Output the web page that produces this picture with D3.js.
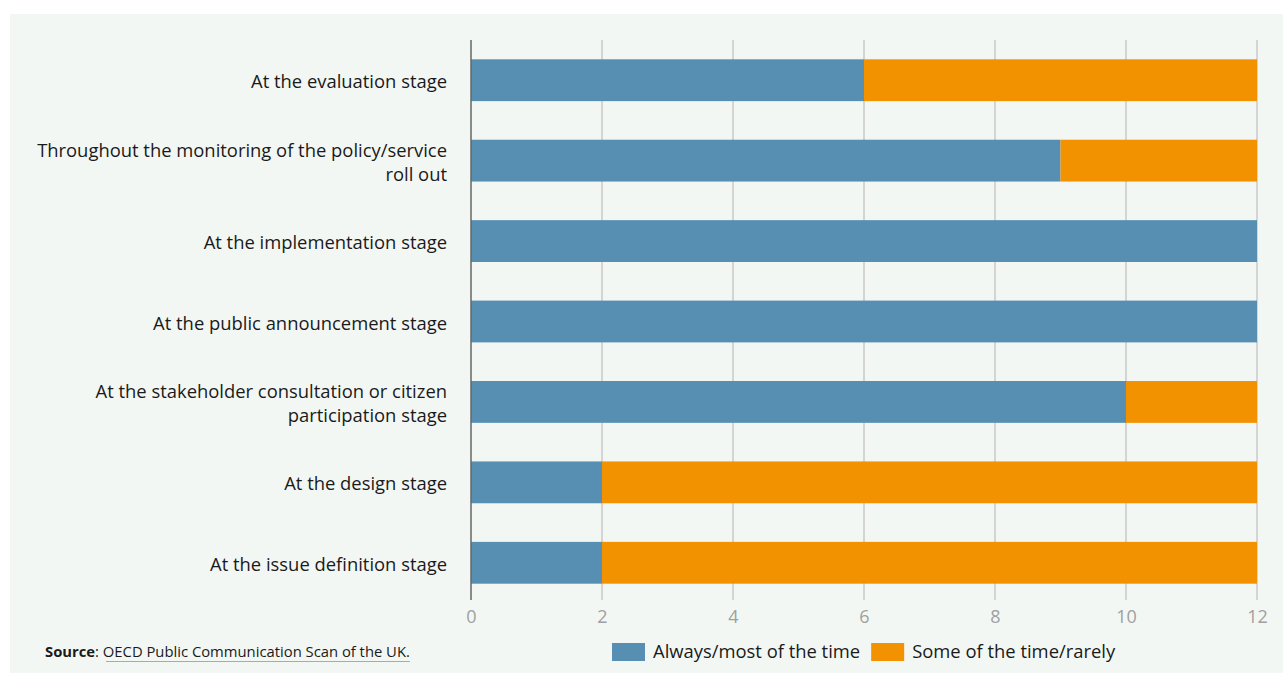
<!DOCTYPE html>
<html lang="en">
<head>
  <meta charset="UTF-8">
  <title>Chart</title>
  <style>
    * {
      margin: 0;
      padding: 0;
    }
    body {
      background: #fff;
    }
  </style>
</head>
<body>
  <script src="https://d3js.org/d3.v7.min.js"></script>
  <script>
    const width = 1283;
    const height = 673;
    const padding = { left: 471, right: 26, top: 40, bottom: 70 };

    // data, top bar first
    const categories = [
      ['At the evaluation stage'],
      ['Throughout the monitoring of the policy/service', 'roll out'],
      ['At the implementation stage'],
      ['At the public announcement stage'],
      ['At the stakeholder consultation or citizen', 'participation stage'],
      ['At the design stage'],
      ['At the issue definition stage'],
    ];
    const always = [6, 9, 12, 12, 10, 2, 2];
    const sometimes = [6, 3, 0, 0, 2, 10, 10];
    const seriesNames = ['Always/most of the time', 'Some of the time/rarely'];
    const colors = ['#578fb3', '#f39200'];
    const ticks = [0, 2, 4, 6, 8, 10, 12];

    const font = '"Open Sans", "Noto Sans", sans-serif';

    const ds = categories.map((c, i) => ({
      name: c.join(' '),
      lines: c,
      values: [always[i], sometimes[i]],
    }));

    const svg = d3.select('body')
      .append('svg')
      .attr('width', width)
      .attr('height', height)
      .style('font-family', font);

    svg.append('rect')
      .attr('x', 10)
      .attr('y', 14)
      .attr('width', width - 10)
      .attr('height', height - 14)
      .attr('fill', '#f3f7f4');

    const xScale = d3.scaleLinear()
      .domain([0, 12])
      .range([padding.left, width - padding.right]);

    const yScale = d3.scaleBand()
      .domain(ds.map(d => d.name))
      .range([padding.top, 603])
      .paddingInner(0.48)
      .paddingOuter(0.24);

    // grid
    svg.append('g')
      .selectAll('line')
      .data(ticks.slice(1))
      .join('line')
      .attr('x1', d => xScale(d))
      .attr('x2', d => xScale(d))
      .attr('y1', padding.top)
      .attr('y2', 600)
      .attr('stroke', '#c8c8c8')
      .attr('stroke-width', 1.5);

    // bars
    const stack = d3.stack().keys([0, 1]).value((d, k) => d.values[k])(ds);
    svg.append('g')
      .selectAll('g')
      .data(stack)
      .join('g')
      .attr('fill', (d, i) => colors[i])
      .selectAll('rect')
      .data(d => d)
      .join('rect')
      .attr('x', d => xScale(d[0]))
      .attr('y', d => yScale(d.data.name))
      .attr('width', d => xScale(d[1]) - xScale(d[0]))
      .attr('height', yScale.bandwidth());

    // y axis line
    svg.append('line')
      .attr('x1', xScale(0))
      .attr('x2', xScale(0))
      .attr('y1', padding.top)
      .attr('y2', 600)
      .attr('stroke', '#666')
      .attr('stroke-width', 1.5);

    // x axis labels
    const xAxis = d3.axisBottom(xScale)
      .tickValues(ticks)
      .tickSize(0)
      .tickPadding(7);
    const gx = svg.append('g')
      .attr('transform', 'translate(0, 603)')
      .call(xAxis);
    gx.select('.domain').remove();
    gx.selectAll('text')
      .attr('fill', '#a0a0a0')
      .style('font-size', '18px')
      .style('font-family', font);

    // category labels
    const labels = svg.append('g')
      .selectAll('text')
      .data(ds)
      .join('text')
      .attr('text-anchor', 'end')
      .attr('fill', '#1a1a1a')
      .style('font-size', '18.4px')
      .attr('transform', d => {
        const cy = yScale(d.name) + yScale.bandwidth() / 2;
        const off = (d.lines.length - 1) * 12;
        return `translate(447, ${cy - off + 8})`;
      });
    labels.selectAll('tspan')
      .data(d => d.lines)
      .join('tspan')
      .attr('x', 0)
      .attr('dy', (d, i) => i === 0 ? 0 : 24)
      .text(d => d);

    // source
    const src = svg.append('text')
      .attr('x', 45)
      .attr('y', 657)
      .attr('fill', '#1a1a1a')
      .style('font-size', '14.8px');
    src.append('tspan').attr('font-weight', 'bold').text('Source');
    src.append('tspan').text(':  OECD Public Communication Scan of the UK.');
    const srcBox = src.node().getBBox();
    svg.append('line')
      .attr('x1', 106)
      .attr('x2', srcBox.x + srcBox.width)
      .attr('y1', 661.5)
      .attr('y2', 661.5)
      .attr('stroke', '#8fb0d0')
      .attr('stroke-width', 1);

    // legend
    const legend = svg.append('g').attr('transform', 'translate(612, 643)');
    let lx = 0;
    seriesNames.forEach((name, i) => {
      const g = legend.append('g').attr('transform', `translate(${lx}, 0)`);
      g.append('rect')
        .attr('width', 33)
        .attr('height', 18)
        .attr('fill', colors[i]);
      const t = g.append('text')
        .attr('x', 41)
        .attr('y', 15)
        .attr('fill', '#1a1a1a')
        .style('font-size', '18.4px')
        .text(name);
      lx += 41 + t.node().getComputedTextLength() + 11;
    });
  </script>
</body>
</html>
